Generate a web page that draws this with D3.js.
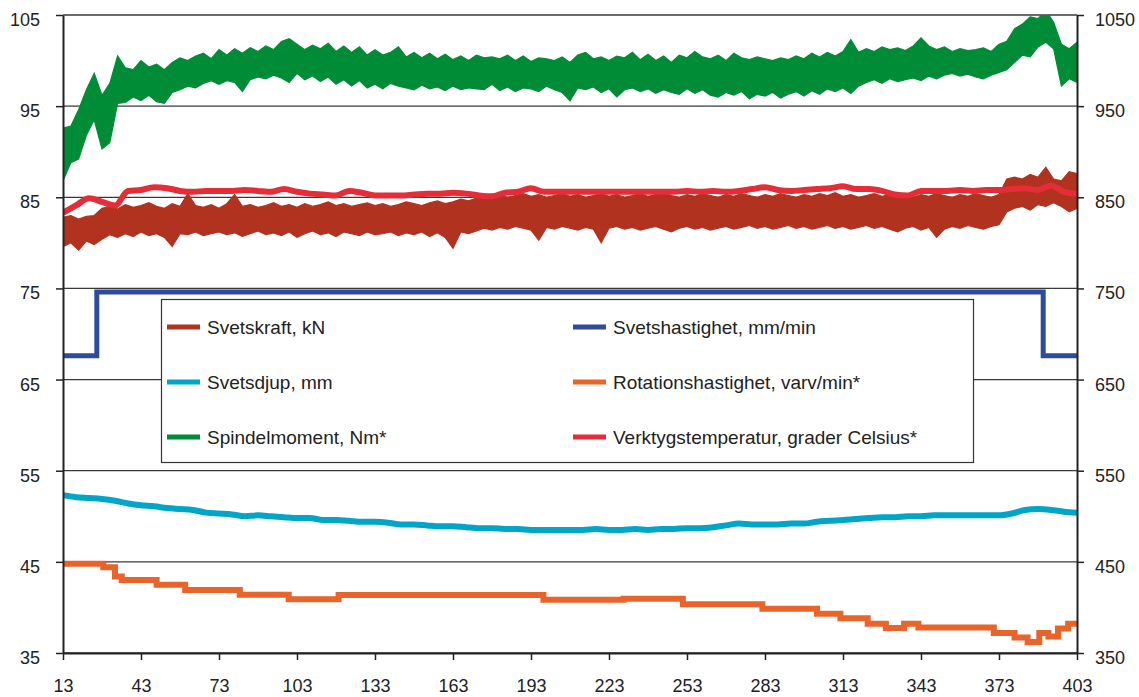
<!DOCTYPE html>
<html>
<head>
<meta charset="utf-8">
<script src="https://cdn.jsdelivr.net/npm/d3@7"></script>
<style>
  body { margin: 0; background: #fff; }
  text { font-family: "Liberation Sans", Arial, sans-serif; fill: #222; }
</style>
</head>
<body>
<script>
// ----- data (left axis units, right axis = x10) -----
const xStart = 13, xEnd = 403;
const xTicks = [13, 43, 73, 103, 133, 163, 193, 223, 253, 283, 313, 343, 373, 403];
const yTicks = [35, 45, 55, 65, 75, 85, 95, 105];

// noisy series sampled every 3 units: upper and lower edge of the band
const bandStep = 3;
const spindelHi = [92.6,92.8,94.6,96.8,98.6,96.2,97.5,100.5,99.2,99.0,100.0,99.3,99.6,99.0,99.8,100.3,100.0,100.5,100.8,100.2,101.2,100.6,101.3,100.8,101.4,101.0,101.6,101.2,102.1,102.4,101.8,101.2,101.7,101.3,101.9,101.0,101.6,100.9,101.5,100.6,101.2,100.6,100.9,101.5,100.4,100.9,100.3,100.8,100.2,100.7,100.1,100.5,100.0,100.6,100.3,100.4,100.2,100.6,100.0,100.5,99.9,100.3,100.2,100.0,100.4,99.8,100.6,100.9,100.2,100.4,100.0,100.5,100.3,100.9,100.1,100.7,100.0,100.5,99.8,100.6,100.3,101.0,100.4,100.2,100.6,100.0,100.8,100.3,100.1,100.4,100.2,100.0,100.3,100.1,100.5,100.2,100.8,100.4,100.9,100.5,101.0,102.3,100.9,101.3,101.0,101.5,101.2,101.4,101.1,101.6,102.5,101.6,101.2,101.5,101.0,101.3,101.1,101.2,101.4,101.0,101.8,102.1,103.5,104.0,104.8,104.6,105.5,104.2,101.8,101.3,102.0];
const spindelLo = [86.8,88.8,89.2,91.8,93.5,90.3,91.0,95.3,95.4,96.0,95.6,96.2,95.5,95.3,96.5,96.8,97.2,97.0,97.5,97.8,97.4,97.8,97.6,96.6,97.9,98.2,98.0,98.4,98.1,97.6,98.6,97.9,98.3,97.7,98.2,97.4,97.9,97.2,97.8,97.0,97.4,96.9,97.5,97.2,97.0,96.8,97.3,96.9,97.1,96.7,97.2,96.8,97.0,96.9,96.8,97.4,96.7,97.1,96.6,97.0,96.9,96.6,97.2,96.8,96.5,95.6,97.0,96.8,97.1,96.5,96.9,96.0,96.8,97.0,96.6,96.9,96.4,96.8,96.5,96.3,96.9,96.4,96.8,96.2,96.0,96.5,96.2,96.6,95.8,96.3,96.1,96.5,95.9,96.3,96.6,96.1,96.7,96.3,96.9,96.6,97.0,96.4,97.2,97.6,97.9,97.5,98.0,97.7,97.9,98.1,97.8,98.3,98.0,98.4,98.6,98.3,98.5,98.2,98.0,98.4,98.7,99.0,99.8,100.6,100.4,101.5,102.0,101.3,97.2,98.0,97.6];
const kraftHi = [82.8,83.0,82.6,82.9,83.0,83.8,84.0,83.7,84.2,83.9,84.1,84.4,84.0,83.8,84.3,84.0,85.4,84.1,83.9,84.2,83.8,84.3,85.3,84.0,84.2,83.9,84.1,84.4,84.0,84.2,83.9,84.3,84.0,84.2,84.5,84.1,84.3,84.0,84.2,84.4,84.1,84.3,84.0,84.2,84.5,84.3,84.1,84.4,84.6,84.3,84.5,84.8,84.6,84.9,85.1,85.0,85.3,85.0,85.2,85.4,85.1,85.3,85.0,85.2,85.4,85.1,85.3,85.0,85.2,85.4,85.1,85.3,85.0,85.2,85.4,85.1,85.3,85.5,85.2,85.0,85.3,85.1,85.4,85.2,85.0,85.3,85.1,85.4,85.2,85.0,85.3,85.1,85.4,85.2,85.0,85.3,85.1,85.4,85.2,85.5,85.1,85.3,85.0,85.2,85.4,85.1,85.3,85.5,85.2,85.0,85.3,85.1,85.4,85.2,85.0,85.3,85.1,85.4,85.2,85.0,85.3,87.0,87.2,87.0,87.5,87.2,88.3,87.0,86.8,87.8,87.6];
const kraftLo = [79.6,80.0,79.2,80.2,79.8,80.4,80.9,80.6,81.0,80.7,81.2,80.8,81.0,80.6,79.6,81.0,80.9,81.2,80.8,81.0,81.2,80.9,81.1,80.7,81.0,81.3,80.9,81.1,80.8,81.2,80.6,81.0,81.3,80.9,81.1,80.7,81.2,81.0,80.8,81.2,80.9,81.0,81.2,80.8,81.1,80.9,81.2,80.7,81.1,80.6,79.4,81.2,81.0,81.3,81.6,81.4,81.7,81.5,81.8,81.6,81.4,80.3,81.7,81.5,81.8,81.6,81.4,81.7,81.5,80.0,81.6,81.8,81.5,81.7,81.4,81.6,81.8,81.5,81.2,81.6,81.8,81.5,81.7,81.4,81.6,81.8,81.5,81.7,81.9,81.6,81.8,81.5,81.7,81.9,81.6,81.8,81.5,81.7,81.9,81.6,81.8,81.5,81.7,81.9,81.6,81.8,81.5,81.2,81.6,81.8,81.4,81.7,80.6,81.5,81.8,81.6,81.9,81.7,81.5,81.8,82.0,83.4,83.8,84.0,83.6,84.2,84.0,84.4,84.0,83.4,83.8];

// smoother series sampled every 5 units
const lineStep = 5;
const temperatur = [83.3,84.1,84.9,84.5,84.1,85.7,85.8,86.1,86.0,85.7,85.6,85.7,85.7,85.7,85.8,85.7,85.6,85.9,85.6,85.4,85.3,85.2,85.7,85.5,85.2,85.2,85.2,85.3,85.4,85.4,85.5,85.4,85.2,85.1,85.5,85.6,86.0,85.6,85.6,85.6,85.6,85.6,85.6,85.6,85.6,85.6,85.6,85.6,85.7,85.6,85.7,85.6,85.7,85.9,86.1,85.8,85.7,85.8,85.9,86.0,86.2,85.9,85.9,85.7,85.3,85.2,85.7,85.7,85.7,85.8,85.7,85.8,85.8,85.9,86.0,85.8,86.3,85.6,85.4];
const svetsdjup = [52.3,52.1,52.0,51.9,51.7,51.4,51.2,51.1,50.9,50.8,50.7,50.4,50.3,50.2,50.0,50.1,50.0,49.9,49.8,49.8,49.6,49.6,49.5,49.4,49.4,49.3,49.1,49.1,49.0,48.9,48.9,48.8,48.7,48.7,48.6,48.6,48.5,48.5,48.5,48.5,48.5,48.6,48.5,48.5,48.6,48.5,48.6,48.6,48.7,48.7,48.8,49.0,49.2,49.1,49.1,49.1,49.2,49.2,49.4,49.5,49.6,49.7,49.8,49.9,49.9,50.0,50.0,50.1,50.1,50.1,50.1,50.1,50.1,50.3,50.7,50.8,50.7,50.5,50.4];

// step series: value holds from each break until the next
const hastighetX = [13, 26, 390, 403];
const hastighetV = [67.6, 74.6, 67.6, 67.6];
const rotationX = [13, 28.5, 33, 35.6, 49, 60, 81, 99.8, 119, 197.8, 228.6, 251.4, 282, 303, 312, 322.5, 329.5, 336.5, 342, 371, 379, 384, 388.5, 392, 395.7, 399.6, 403];
const rotationV = [44.8, 44.4, 43.4, 43.0, 42.5, 41.9, 41.4, 40.9, 41.35, 40.85, 40.95, 40.35, 39.85, 39.3, 38.8, 38.2, 37.75, 38.2, 37.8, 37.2, 36.7, 36.2, 37.2, 36.8, 37.7, 38.2, 38.2];

const legendNames = ['Svetskraft, kN', 'Svetsdjup, mm', 'Spindelmoment, Nm*',
  'Svetshastighet, mm/min', 'Rotationshastighet, varv/min*', 'Verktygstemperatur, grader Celsius*'];
const legendColors = ['#b0321f', '#00a5c8', '#008c36', '#2f4b9c', '#e8642a', '#e52d37'];

// ----- svg -----
const width = 1139, height = 697;
const m = { left: 63, right: 1077, top: 15, bottom: 653 };

const svg = d3.select('body').append('svg')
  .attr('width', width)
  .attr('height', height);

const x = d3.scaleLinear().domain([xStart, xEnd]).range([m.left, m.right]);
const y = d3.scaleLinear().domain([35, 105]).range([m.bottom, m.top]);
const yR = d3.scaleLinear().domain([350, 1050]).range([m.bottom, m.top]);

svg.append('defs').append('clipPath').attr('id', 'plot')
  .append('rect')
  .attr('x', m.left).attr('y', m.top)
  .attr('width', m.right - m.left).attr('height', m.bottom - m.top);

// grid lines
svg.append('g')
  .selectAll('line')
  .data(yTicks)
  .join('line')
  .attr('x1', m.left).attr('x2', m.right)
  .attr('y1', d => y(d)).attr('y2', d => y(d))
  .attr('stroke', '#3a3a3a')
  .attr('stroke-width', 1.3);

const series = svg.append('g').attr('clip-path', 'url(#plot)');

// band helper (noisy series)
function band(hi, lo, color) {
  const pts = hi.map((h, i) => ({ x: xStart + i * bandStep, hi: h, lo: lo[i] }));
  const area = d3.area()
    .x(d => x(d.x))
    .y0(d => y(d.lo))
    .y1(d => y(d.hi));
  series.append('path')
    .datum(pts)
    .attr('d', area)
    .attr('fill', color)
    .attr('stroke', color)
    .attr('stroke-width', 1.2)
    .attr('stroke-linejoin', 'miter');
}

function smooth(vals, color, w) {
  const line = d3.line()
    .x((d, i) => x(xStart + i * lineStep))
    .y(d => y(d))
    .curve(d3.curveMonotoneX);
  series.append('path')
    .datum(vals)
    .attr('d', line)
    .attr('fill', 'none')
    .attr('stroke', color)
    .attr('stroke-width', w)
    .attr('stroke-linejoin', 'round');
}

function steps(xs, vs, color, w) {
  const line = d3.line()
    .x((d, i) => x(xs[i]))
    .y(d => y(d))
    .curve(d3.curveStepAfter);
  series.append('path')
    .datum(vs)
    .attr('d', line)
    .attr('fill', 'none')
    .attr('stroke', color)
    .attr('stroke-width', w);
}

band(kraftHi, kraftLo, legendColors[0]);
steps(hastighetX, hastighetV, legendColors[3], 5);
smooth(svetsdjup, legendColors[1], 6);
steps(rotationX, rotationV, legendColors[4], 6);
band(spindelHi, spindelLo, legendColors[2]);
smooth(temperatur, legendColors[5], 6);

// ----- axes -----
const axisL = svg.append('g')
  .attr('transform', `translate(${m.left},0)`)
  .call(d3.axisLeft(y).tickValues(yTicks).tickSize(7).tickSizeOuter(0).tickPadding(16));
const axisR = svg.append('g')
  .attr('transform', `translate(${m.right},0)`)
  .call(d3.axisRight(yR).tickValues(yTicks.map(v => v * 10)).tickFormat(d3.format('d'))
    .tickSize(7).tickSizeOuter(0).tickPadding(11));
const axisB = svg.append('g')
  .attr('transform', `translate(0,${m.bottom})`)
  .call(d3.axisBottom(x).tickValues(xTicks).tickFormat(d3.format('d')).tickSize(7).tickSizeOuter(0).tickPadding(19));

[axisL, axisR, axisB].forEach(a => {
  a.select('.domain').attr('stroke', '#222').attr('stroke-width', 2);
  a.selectAll('.tick line').attr('stroke', '#222').attr('stroke-width', 1.5);
  a.selectAll('text')
    .style('font-size', '18px')
    .attr('fill', '#222');
});
axisL.selectAll('text').attr('dy', '0.58em');
axisR.selectAll('text').attr('dy', '0.58em');

// ----- legend -----
const legend = svg.append('g');
legend.append('rect')
  .attr('x', 161.5).attr('y', 299.5)
  .attr('width', 812).attr('height', 163)
  .attr('fill', '#fff')
  .attr('stroke', '#333')
  .attr('stroke-width', 1.2);

const rowY = [327, 382, 437];
const colX = [167, 573];
const item = legend.selectAll('.item')
  .data(legendNames)
  .join('g')
  .attr('class', 'item')
  .attr('transform', (d, i) => `translate(${colX[Math.floor(i / 3)]},${rowY[i % 3]})`);

item.append('line')
  .attr('x1', 0).attr('x2', 33)
  .attr('stroke', (d, i) => legendColors[i])
  .attr('stroke-width', 5);

item.append('text')
  .attr('x', 40)
  .attr('dy', '0.36em')
  .style('font-size', '19px')
  .text(d => d);
</script>
</body>
</html>
